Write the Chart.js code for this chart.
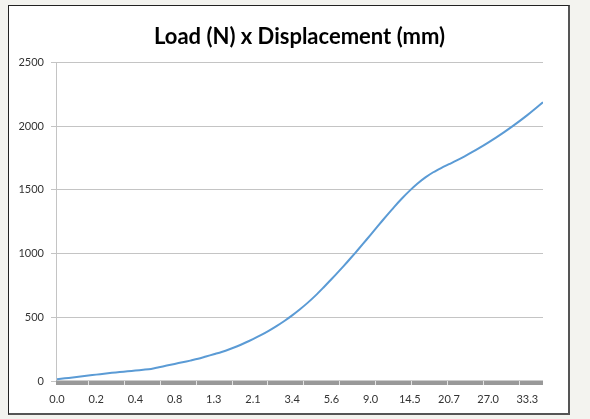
<!DOCTYPE html>
<html>
<head>
<meta charset="utf-8">
<script src="https://cdn.jsdelivr.net/npm/chart.js@4"></script>
<style>
  html, body { margin: 0; padding: 0; background: #f3f3ef; }
  #box {
    position: absolute; left: 8px; top: 5px;
    width: 559px; height: 407px;
    background: #fff;
    border-left: 1px solid #222; border-top: 1px solid #222;
    border-right: 2px solid #555; border-bottom: 2px solid #555;
  }
  canvas { display: block; }
</style>
</head>
<body>
<div id="box"><canvas id="chart" width="559" height="407"></canvas></div>
<script>
// tick labels shown on the category axis (displacement, mm)
const dispLabels = ["0.0", "0.2", "0.4", "0.8", "1.3", "2.1", "3.4", "5.6", "9.0", "14.5", "20.7", "27.0", "33.3"];
const labelEvery = 5;

// load (N) per sample
const loads = [14, 21, 28, 36, 43, 50, 57, 64, 70, 76, 82, 88, 95, 108, 121, 134, 147, 160, 174, 192,
  210, 228, 249, 273, 300, 329, 360, 394, 431, 471, 515, 563, 615, 672, 734, 798, 864, 932, 1002, 1074,
  1147, 1221, 1294, 1365, 1432, 1494, 1550, 1598, 1638, 1671, 1701, 1731, 1763, 1797, 1833, 1871, 1910,
  1951, 1994, 2039, 2086, 2136, 2188];

const yTicks = [0, 500, 1000, 1500, 2000, 2500];

// grey tick band under the plot, like the spreadsheet's dense category ticks
const axisBand = {
  id: "axisBand",
  beforeDatasetsDraw(chart) {
    const { ctx, chartArea: a, scales: { x } } = chart;
    ctx.save();
    ctx.fillStyle = "#999";
    ctx.fillRect(a.left, a.bottom - 0.5, a.right - a.left, 4.5);
    ctx.strokeStyle = "#e4e4e4";
    ctx.lineWidth = 1;
    for (let v = 3.9; v < x.max; v += 4.59) {
      const px = Math.round(x.getPixelForValue(v)) + 0.5;
      ctx.beginPath();
      ctx.moveTo(px, a.bottom);
      ctx.lineTo(px, a.bottom + 4);
      ctx.stroke();
    }
    ctx.restore();
  }
};

const font = { family: "Lato, 'Open Sans', sans-serif", size: 11 };

new Chart(document.getElementById("chart"), {
  type: "line",
  data: {
    datasets: [{
      label: "Load",
      data: loads.map((v, i) => ({ x: i, y: v })),
      borderColor: "#5b9bd5",
      borderWidth: 2,
      pointRadius: 0,
      tension: 0.3,
      fill: false
    }]
  },
  options: {
    responsive: false,
    animation: false,
    layout: { padding: { left: 0, right: 25, top: 0, bottom: 0 } },
    plugins: {
      legend: { display: false },
      tooltip: { enabled: false },
      title: {
        display: true,
        fullSize: false,
        text: "Load (N) x Displacement (mm)",
        color: "#000",
        font: { family: "Lato, 'Open Sans', sans-serif", size: 22, weight: "bold" },
        padding: { top: 18, bottom: 12 }
      }
    },
    scales: {
      x: {
        type: "linear",
        min: -0.13,
        max: loads.length - 1,
        afterBuildTicks: (axis) => {
          axis.ticks = dispLabels.map((_, k) => ({ value: k * labelEvery }));
        },
        afterFit: (s) => { s.height = 32; },
        grid: { display: false, drawTicks: false },
        border: { display: false },
        ticks: {
          padding: 12,
          color: "#333",
          font,
          maxRotation: 0,
          autoSkip: false,
          callback: (v) => dispLabels[Math.round(v / labelEvery)]
        }
      },
      y: {
        min: 0,
        max: 2500,
        afterBuildTicks: (axis) => { axis.ticks = yTicks.map(v => ({ value: v })); },
        afterFit: (s) => { s.width = 47; },
        grid: { color: "#c4c4c4", tickLength: 5, tickColor: "#c4c4c4" },
        border: { color: "#c4c4c4" },
        ticks: { padding: 7, color: "#333", font, callback: (v) => String(v) }
      }
    }
  },
  plugins: [axisBand]
});
</script>
</body>
</html>
